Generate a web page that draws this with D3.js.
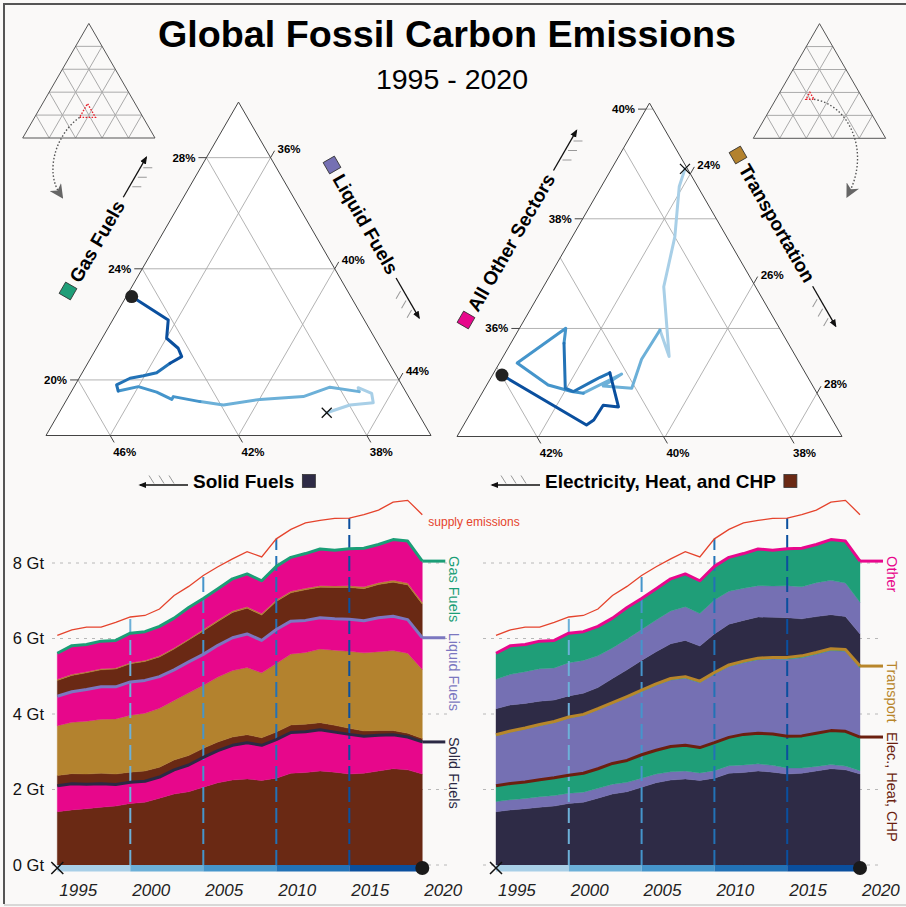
<!DOCTYPE html>
<html>
<head>
<meta charset="utf-8">
<title>Global Fossil Carbon Emissions</title>
<script src="https://cdnjs.cloudflare.com/ajax/libs/d3/7.8.5/d3.min.js"></script>
<style>
  body { margin: 0; background: #faf9f8; }
  svg { display: block; }
  text { font-family: "Liberation Sans", Arial, Helvetica, sans-serif; }
  .tick-label { font-size: 11.5px; font-weight: bold; }
  .axis-title { font-size: 19px; font-weight: bold; }
</style>
</head>
<body>
<svg id="chart" width="906" height="907"></svg>
<script>
// ====== Global Fossil Carbon Emissions, 1995 - 2020 ======
//
// Two zoomed ternary plots (fuel mix, sector mix) and two stacked areas (Gt carbon).

// ---- data ----
const years = [1995, 1996, 1997, 1998, 1999, 2000, 2001, 2002, 2003, 2004, 2005, 2006, 2007,
               2008, 2009, 2010, 2011, 2012, 2013, 2014, 2015, 2016, 2017, 2018, 2019, 2020];

// emissions by fuel and sector, Gt carbon
const solidElec       = [1.41, 1.46, 1.49, 1.53, 1.56, 1.63, 1.66, 1.77, 1.88, 1.94, 2.06, 2.18, 2.25, 2.28, 2.24, 2.30, 2.43, 2.45, 2.49, 2.46, 2.41, 2.43, 2.49, 2.55, 2.52, 2.41];
const solidOther      = [0.69, 0.69, 0.65, 0.62, 0.57, 0.56, 0.56, 0.56, 0.64, 0.71, 0.79, 0.85, 0.92, 0.96, 0.93, 1.02, 1.08, 1.08, 1.09, 1.06, 1.05, 0.98, 0.95, 0.90, 0.87, 0.85];
const liquidElec      = [0.27, 0.27, 0.27, 0.28, 0.28, 0.27, 0.27, 0.26, 0.26, 0.25, 0.24, 0.23, 0.22, 0.21, 0.20, 0.20, 0.20, 0.20, 0.19, 0.18, 0.16, 0.14, 0.12, 0.11, 0.10, 0.09];
const liquidTransport = [1.32, 1.36, 1.40, 1.43, 1.46, 1.51, 1.53, 1.56, 1.58, 1.66, 1.67, 1.72, 1.76, 1.78, 1.72, 1.82, 1.88, 1.90, 1.95, 1.99, 2.04, 2.07, 2.09, 2.12, 2.12, 1.83];
const liquidOther     = [0.78, 0.81, 0.84, 0.86, 0.85, 0.88, 0.87, 0.84, 0.81, 0.82, 0.82, 0.84, 0.87, 0.89, 0.86, 0.90, 0.87, 0.85, 0.83, 0.83, 0.85, 0.85, 0.90, 0.91, 0.89, 0.84];
const gasElec         = [0.42, 0.43, 0.44, 0.45, 0.47, 0.48, 0.50, 0.52, 0.55, 0.58, 0.62, 0.63, 0.67, 0.68, 0.67, 0.74, 0.75, 0.81, 0.81, 0.83, 0.84, 0.85, 0.88, 0.90, 0.92, 0.89];
const gasTransport    = [0.03, 0.03, 0.03, 0.03, 0.03, 0.03, 0.03, 0.03, 0.03, 0.03, 0.04, 0.04, 0.04, 0.04, 0.04, 0.04, 0.04, 0.04, 0.04, 0.04, 0.05, 0.05, 0.05, 0.05, 0.05, 0.05];
const gasOther        = [0.69, 0.76, 0.72, 0.73, 0.73, 0.78, 0.76, 0.78, 0.79, 0.83, 0.82, 0.83, 0.85, 0.87, 0.87, 0.89, 0.90, 0.92, 0.97, 0.95, 0.98, 1.02, 1.01, 1.08, 1.11, 1.09];
const supplyEmissions = [6.08, 6.23, 6.30, 6.30, 6.43, 6.57, 6.61, 6.78, 7.14, 7.38, 7.67, 7.90, 8.11, 8.30, 8.16, 8.64, 8.89, 9.06, 9.13, 9.18, 9.19, 9.28, 9.40, 9.61, 9.66, 9.28];

// fuel shares, % (ternary: solid / liquid / gas)
const solidShare  = [38.84, 37.98, 37.21, 37.09, 37.41, 37.45, 38.28, 39.28, 40.68, 41.92, 42.59, 43.33, 43.43, 43.77, 44.25, 44.94, 44.89, 44.35, 43.89, 43.42, 42.84, 42.35, 42.31, 42.49, 42.11, 42.83];
const liquidShare = [42.34, 42.93, 43.61, 43.39, 42.87, 42.98, 41.98, 41.32, 40.02, 38.98, 38.19, 37.27, 37.27, 36.67, 36.00, 35.45, 35.29, 35.59, 35.96, 36.32, 36.57, 36.81, 36.55, 36.01, 35.73, 34.17];
const gasShare    = [18.82, 19.10, 19.18, 19.52, 19.72, 19.58, 19.74, 19.40, 19.30, 19.10, 19.22, 19.40, 19.30, 19.56, 19.76, 19.60, 19.82, 20.06, 20.15, 20.26, 20.60, 20.84, 21.14, 21.50, 22.16, 23.00];

// sector shares, % (ternary: electricity / transport / other)
const elecShare      = [37.22, 37.47, 38.00, 38.63, 39.18, 39.08, 39.64, 40.06, 40.49, 40.09, 40.87, 41.04, 41.35, 41.64, 40.55, 40.72, 41.11, 41.01, 40.63, 40.46, 40.26, 40.44, 40.66, 40.95, 41.11, 41.99];
const transportShare = [23.87, 23.94, 24.33, 24.61, 25.33, 24.94, 24.92, 25.03, 24.56, 24.74, 24.31, 24.11, 23.68, 22.99, 23.44, 23.55, 23.98, 24.14, 24.34, 24.43, 24.54, 24.99, 24.73, 24.72, 24.65, 22.86];
const otherShare     = [38.91, 38.59, 37.67, 36.76, 35.49, 35.97, 35.44, 34.91, 34.95, 35.17, 34.82, 34.85, 34.97, 35.37, 36.00, 35.73, 34.91, 34.85, 35.03, 35.11, 35.19, 34.57, 34.60, 34.33, 34.24, 35.15];

// ternary windows and tick labels
const fuelMins = [36, 34, 18], fuelSpan = 12;
const fuelTicks = [[38, 42, 46], [36, 40, 44], [20, 24, 28]];
const sectorMins = [37.18, 22.71, 34.03], sectorSpan = 6.08;
const sectorTicks = [[38, 40, 42], [24, 26, 28], [36, 38, 40]];
const miniGrid = [20, 40, 60, 80];

// stacked chart axes
const yTicks = [0, 2, 4, 6, 8];
const yTickLabels = ['0 Gt', '2 Gt', '4 Gt', '6 Gt', '8 Gt'];
const xTickYears = [1995, 2000, 2005, 2010, 2015, 2020];
const markYears = [2000, 2005, 2010, 2015];

// ---- styles ----
const colors = {
	elec: '#6a2914', transport: '#b3822e', other: '#e7078b',
	solid: '#2e2b46', liquid: '#7570b3', gas: '#1f9e78'
};
const periodColors = ['#a8cfe7', '#6cb0d8', '#4595cb', '#2272b6', '#0a4f9e'];

const svg = d3.select('#chart');

// Arrow markers:
const defs = svg.append('defs');
defs.append('marker').attr('id', 'arrowHead')
	.attr('viewBox', '0 0 10 10').attr('refX', 8).attr('refY', 5)
	.attr('markerWidth', 8).attr('markerHeight', 8).attr('markerUnits', 'userSpaceOnUse')
	.attr('orient', 'auto')
	.append('path').attr('d', 'M0,1L10,5L0,9Z').attr('fill', '#111');
defs.append('marker').attr('id', 'dartHead')
	.attr('viewBox', '0 0 10 10').attr('refX', 6).attr('refY', 5)
	.attr('markerWidth', 14).attr('markerHeight', 14).attr('markerUnits', 'userSpaceOnUse')
	.attr('orient', 'auto')
	.append('path').attr('d', 'M0,0L10,5L0,10L3,5Z').attr('fill', '#666');

// Background and frame:
svg.append('rect').attr('width', 906).attr('height', 907).attr('fill', '#faf9f8');
svg.append('path').attr('d', 'M4,904V4H906').attr('fill', 'none').attr('stroke', '#555').attr('stroke-width', 2);
svg.append('line').attr('x1', 4).attr('x2', 906).attr('y1', 905).attr('y2', 905).attr('stroke', '#ccc').attr('stroke-width', 1.5);

// Title:
svg.append('text').attr('x', 447).attr('y', 47).attr('text-anchor', 'middle')
	.style('font-size', '37.7px').style('font-weight', 'bold')
	.text('Global Fossil Carbon Emissions');
svg.append('text').attr('x', 452).attr('y', 89).attr('text-anchor', 'middle')
	.style('font-size', '28.5px')
	.text('1995 - 2020');

// ---- ternary helpers ----
function makeTernary(bl, side, mins, span) {
	const h = side * Math.sqrt(3) / 2;
	const corners = [[bl[0], bl[1]], [bl[0] + side, bl[1]], [bl[0] + side / 2, bl[1] - h]];

	// composition [left, right, top] in % -> pixel
	function project(p) {
		const w = p.map(function(v, i) { return (v - mins[i]) / span; });
		const s = w[0] + w[1] + w[2];
		return [
			(w[0] * corners[0][0] + w[1] * corners[1][0] + w[2] * corners[2][0]) / s,
			(w[0] * corners[0][1] + w[1] * corners[1][1] + w[2] * corners[2][1]) / s
		];
	}

	// ends of the line where component k equals v: [end on the tick edge, far end]
	const tickEdge = [2, 0, 1];
	function isoLine(k, v) {
		return [tickEdge[k], 3 - k - tickEdge[k]].map(function(j) {
			const p = [0, 0, 0], m = 3 - k - j;
			p[k] = v; p[j] = mins[j]; p[m] = 100 - v - mins[j];
			return project(p);
		});
	}

	return { corners: corners, project: project, isoLine: isoLine, mins: mins, span: span };
}

function drawMini(t, big, startCorner, curve) {
	const g = svg.append('g');
	[0, 1, 2].forEach(function(k) {
		miniGrid.forEach(function(v) {
			const e = t.isoLine(k, v);
			g.append('line')
				.attr('x1', e[0][0]).attr('y1', e[0][1]).attr('x2', e[1][0]).attr('y2', e[1][1])
				.attr('stroke', '#aaa').attr('stroke-width', 1);
		});
	});
	g.append('path').attr('d', 'M' + t.corners.join('L') + 'Z')
		.attr('fill', 'none').attr('stroke', '#555').attr('stroke-width', 1);

	// window shown by the big plot
	const c = big.mins, s = big.span;
	const win = [[c[0] + s, c[1], c[2]], [c[0], c[1] + s, c[2]], [c[0], c[1], c[2] + s]].map(t.project);
	g.append('path').attr('d', 'M' + win.join('L') + 'Z')
		.attr('fill', 'none').attr('stroke', '#e8202a').attr('stroke-width', 1.4)
		.attr('stroke-dasharray', '1.5,1.5');

	const p0 = win[startCorner];
	g.append('path').attr('d', 'M' + p0.join(',') + curve)
		.attr('fill', 'none').attr('stroke', '#555').attr('stroke-width', 1.4)
		.attr('stroke-dasharray', '1.5,2').attr('marker-end', 'url(#dartHead)');
}

function drawTernary(t, ticks, shares) {
	const g = svg.append('g');
	g.append('path').attr('d', 'M' + t.corners.join('L') + 'Z').attr('fill', '#fff');

	// grid lines, ticks, labels
	ticks.forEach(function(vals, k) {
		vals.forEach(function(v) {
			const e = t.isoLine(k, v), a = e[0], b = e[1];
			g.append('line').attr('x1', a[0]).attr('y1', a[1]).attr('x2', b[0]).attr('y2', b[1])
				.attr('stroke', '#aaa').attr('stroke-width', 0.9);
			let dx = a[0] - b[0], dy = a[1] - b[1];
			const len = Math.hypot(dx, dy);
			dx /= len; dy /= len;
			const end = [a[0] + dx * 8, a[1] + dy * 8];
			g.append('line').attr('x1', a[0]).attr('y1', a[1]).attr('x2', end[0]).attr('y2', end[1])
				.attr('stroke', '#444').attr('stroke-width', 1);
			const label = g.append('text').attr('class', 'tick-label').text(v + '%');
			if (k === 0) label.attr('x', end[0] - 1).attr('y', end[1] + 14);
			else if (k === 1) label.attr('x', end[0] + 3).attr('y', end[1] + 2);
			else label.attr('x', end[0] - 3).attr('y', end[1] + 4).attr('text-anchor', 'end');
		});
	});

	g.append('path').attr('d', 'M' + t.corners.join('L') + 'Z')
		.attr('fill', 'none').attr('stroke', '#444').attr('stroke-width', 1);

	// trajectory, one colour per five-year period
	const pts = years.map(function(yr, i) {
		return t.project([shares[0][i], shares[1][i], shares[2][i]]);
	});
	d3.range(5).forEach(function(k) {
		g.append('path').datum(pts.slice(k * 5, k * 5 + 6))
			.attr('d', d3.line())
			.attr('fill', 'none').attr('stroke', periodColors[k]).attr('stroke-width', 3)
			.attr('stroke-linejoin', 'round').attr('stroke-linecap', 'round');
	});

	const p0 = pts[0], p1 = pts[pts.length - 1];
	g.append('path')
		.attr('d', 'M' + (p0[0] - 5) + ',' + (p0[1] - 5) + 'l10,10m0,-10l-10,10')
		.attr('stroke', '#111').attr('stroke-width', 1.3);
	g.append('circle').attr('cx', p1[0]).attr('cy', p1[1]).attr('r', 6.5).attr('fill', '#222');
}

function edgeTitle(o) {
	const g = svg.append('g').attr('transform', 'translate(' + o.x + ',' + o.y + ') rotate(' + o.angle + ')');
	g.append('rect').attr('x', -6.5).attr('y', -6.5).attr('width', 13).attr('height', 13)
		.attr('fill', o.color).attr('stroke', '#333').attr('stroke-width', 0.8);
	const label = g.append('text').attr('class', 'axis-title').attr('x', 12).attr('y', 7).text(o.text);
	const a0 = 12 + label.node().getComputedTextLength() + 6;
	g.append('line').attr('x1', a0).attr('y1', 1).attr('x2', a0 + 46).attr('y2', 1)
		.attr('stroke', '#111').attr('stroke-width', 1.3).attr('marker-end', 'url(#arrowHead)');
	// hatches follow that axis' grid direction
	[12, 23, 34].forEach(function(s) {
		g.append('line')
			.attr('x1', a0 + s + 1.5).attr('y1', 3.6).attr('x2', a0 + s + 6).attr('y2', 11.4)
			.attr('stroke', '#999').attr('stroke-width', 1);
	});
}

function bottomTitle(o) {
	const g = svg.append('g');
	const label = g.append('text').attr('class', 'axis-title').attr('x', o.x).attr('y', o.y + 7).text(o.text);
	const w = label.node().getComputedTextLength();
	g.append('rect').attr('x', o.x + w + 8).attr('y', o.y - 6.5).attr('width', 13).attr('height', 13)
		.attr('fill', o.color).attr('stroke', '#333').attr('stroke-width', 0.8);
	const ay = o.y + 4;
	g.append('line').attr('x1', o.x - 5).attr('y1', ay).attr('x2', o.x - 53).attr('y2', ay)
		.attr('stroke', '#111').attr('stroke-width', 1.3).attr('marker-end', 'url(#arrowHead)');
	[14, 24, 34].forEach(function(s) {
		g.append('line')
			.attr('x1', o.x - 5 - s).attr('y1', ay - 1.5).attr('x2', o.x - 10 - s).attr('y2', ay - 9.5)
			.attr('stroke', '#999').attr('stroke-width', 1);
	});
}

// ---- ternary plots ----
const fuelTri = makeTernary([46, 435.5], 385, fuelMins, fuelSpan);
const sectorTri = makeTernary([457, 436.5], 385, sectorMins, sectorSpan);

drawMini(makeTernary([22.7, 138], 132.3, [0, 0, 0], 100), fuelTri, 0, 'C55,135 45,172 60,194');
drawMini(makeTernary([753.3, 138.3], 132.4, [0, 0, 0], 100), sectorTri, 1, 'C850,105 870,152 849,193');

drawTernary(fuelTri, fuelTicks, [solidShare, liquidShare, gasShare]);
drawTernary(sectorTri, sectorTicks, [elecShare, transportShare, otherShare]);

edgeTitle({ x: 68, y: 291, angle: -60, text: 'Gas Fuels', color: colors.gas });
edgeTitle({ x: 332, y: 165, angle: 60, text: 'Liquid Fuels', color: colors.liquid });
bottomTitle({ x: 193, y: 481, text: 'Solid Fuels', color: colors.solid });

edgeTitle({ x: 466, y: 320, angle: -60, text: 'All Other Sectors', color: colors.other });
edgeTitle({ x: 738, y: 155, angle: 60, text: 'Transportation', color: colors.transport });
bottomTitle({ x: 545, y: 481, text: 'Electricity, Heat, and CHP', color: colors.elec });

// ---- stacked area charts ----
const rows = years.map(function(yr, i) {
	return {
		year: yr,
		solidElec: solidElec[i], solidOther: solidOther[i],
		liquidElec: liquidElec[i], liquidTransport: liquidTransport[i], liquidOther: liquidOther[i],
		gasElec: gasElec[i], gasTransport: gasTransport[i], gasOther: gasOther[i]
	};
});

const y = d3.scaleLinear().domain([0, 8]).range([865, 563]);

function drawStack(o) {
	const g = svg.append('g');
	const x = d3.scaleLinear().domain([years[0], years[years.length - 1]]).range([o.x0, o.x1]);
	const series = d3.stack().keys(o.keys)(rows);

	// Grid lines:
	yTicks.forEach(function(v) {
		g.append('line').attr('x1', o.gridX0).attr('x2', o.gridX1).attr('y1', y(v)).attr('y2', y(v))
			.attr('stroke', '#b8b8b8').attr('stroke-width', 1).attr('stroke-dasharray', '3,5');
	});
	if (o.yLabels) {
		yTicks.forEach(function(v, i) {
			g.append('text').attr('x', 44).attr('y', y(v)).attr('dy', '0.36em')
				.attr('text-anchor', 'end').style('font-size', '16.5px').attr('fill', '#111')
				.text(yTickLabels[i]);
		});
	}

	// Layers:
	const area = d3.area()
		.x(function(d, i) { return x(years[i]); })
		.y0(function(d) { return y(d[0]); })
		.y1(function(d) { return y(d[1]); });
	g.selectAll('.layer').data(series).enter().append('path')
		.attr('class', 'layer')
		.attr('d', area)
		.attr('fill', function(d, i) { return o.fills[i]; })
		.attr('stroke', function(d, i) { return o.fills[i]; })
		.attr('stroke-width', 0.4);

	// Five-year markers:
	markYears.forEach(function(yr, k) {
		const i = years.indexOf(yr);
		g.append('line').attr('x1', x(yr)).attr('x2', x(yr)).attr('y1', y(0)).attr('y2', y(supplyEmissions[i]))
			.attr('stroke', periodColors[k + 1]).attr('stroke-width', 2).attr('stroke-dasharray', '15,6');
	});

	const line = d3.line()
		.x(function(d, i) { return x(years[i]); })
		.y(function(d) { return y(d); });

	// Supply emissions:
	g.append('path').datum(supplyEmissions).attr('d', line)
		.attr('fill', 'none').attr('stroke', '#e5432c').attr('stroke-width', 1.3);
	if (o.supplyLabel) {
		g.append('text').attr('x', o.x1 + 6).attr('y', y(supplyEmissions[supplyEmissions.length - 1]) + 11)
			.style('font-size', '12px').attr('fill', '#e5432c').text('supply emissions');
	}

	// Group outlines with end labels:
	o.groups.forEach(function(gr) {
		const top = series[gr.index].map(function(d) { return d[1]; });
		const yl = y(top[top.length - 1]);
		g.append('path').datum(top).attr('d', line)
			.attr('fill', 'none').attr('stroke', gr.color).attr('stroke-width', 3).attr('stroke-linejoin', 'round');
		g.append('line').attr('x1', o.x1).attr('x2', o.x1 + 23).attr('y1', yl).attr('y2', yl)
			.attr('stroke', gr.color).attr('stroke-width', 3);
		g.append('text')
			.attr('transform', 'translate(' + (o.x1 + 27) + ',' + (yl - 5) + ') rotate(90)')
			.style('font-size', '14.5px').attr('fill', gr.color)
			.text(gr.label);
	});

	// Period bar along the baseline:
	d3.range(5).forEach(function(k) {
		g.append('rect').attr('x', x(xTickYears[k])).attr('y', y(0))
			.attr('width', x(xTickYears[k + 1]) - x(xTickYears[k])).attr('height', 6.5)
			.attr('fill', periodColors[k]);
	});
	const by = y(0) + 3;
	g.append('path')
		.attr('d', 'M' + (o.x0 - 6) + ',' + (by - 6) + 'l12,12m0,-12l-12,12')
		.attr('stroke', '#111').attr('stroke-width', 1.5);
	g.append('circle').attr('cx', o.x1).attr('cy', by).attr('r', 7).attr('fill', '#1a1a1a');

	// Year labels:
	xTickYears.forEach(function(yr) {
		g.append('text').attr('x', x(yr) + 2).attr('y', 896)
			.style('font-size', '17px').style('font-style', 'italic').attr('fill', '#222')
			.text(yr);
	});
}

drawStack({
	x0: 57.3, x1: 422.3, gridX0: 52, gridX1: 452, yLabels: true, supplyLabel: true,
	keys: ['solidElec', 'solidOther', 'liquidElec', 'liquidTransport', 'liquidOther', 'gasElec', 'gasTransport', 'gasOther'],
	fills: [colors.elec, colors.other, colors.elec, colors.transport, colors.other, colors.elec, colors.transport, colors.other],
	groups: [
		{ index: 1, color: '#2b2944', label: 'Solid Fuels' },
		{ index: 4, color: '#7b77c0', label: 'Liquid Fuels' },
		{ index: 7, color: '#1b9e77', label: 'Gas Fuels' }
	]
});

drawStack({
	x0: 496, x1: 860, gridX0: 483, gridX1: 880, yLabels: false, supplyLabel: false,
	keys: ['solidElec', 'liquidElec', 'gasElec', 'liquidTransport', 'gasTransport', 'solidOther', 'liquidOther', 'gasOther'],
	fills: [colors.solid, colors.liquid, colors.gas, colors.liquid, colors.gas, colors.solid, colors.liquid, colors.gas],
	groups: [
		{ index: 2, color: '#6b1f0f', label: 'Elec., Heat, CHP' },
		{ index: 4, color: '#b8862b', label: 'Transport' },
		{ index: 7, color: '#e8078c', label: 'Other' }
	]
});
</script>
</body>
</html>
